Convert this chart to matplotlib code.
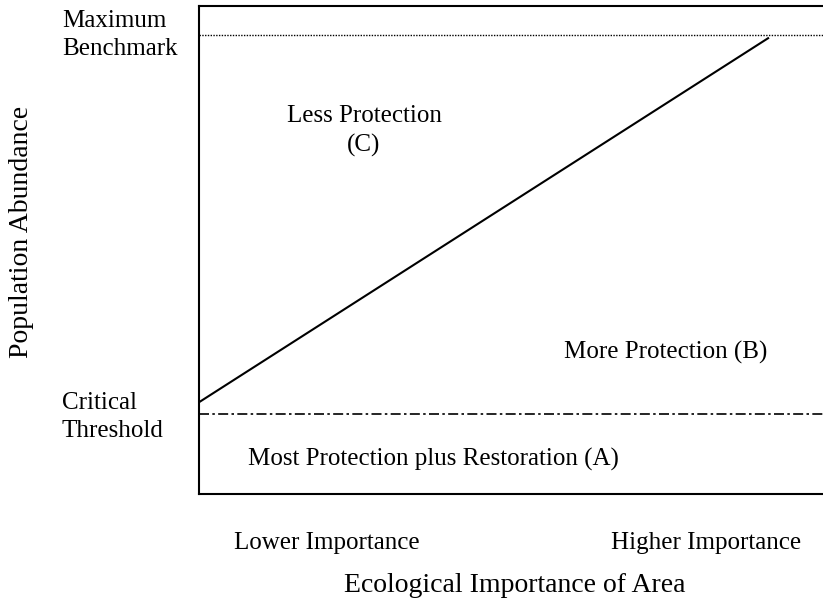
import matplotlib.pyplot as plt

# data (arbitrary units)
max_benchmark = 94.0
critical_threshold = 16.4
line_x = [0.0, 0.912]
line_y = [18.8, 93.4]

plt.rcParams['font.family'] = ['Liberation Serif', 'DejaVu Serif']

fig = plt.figure(figsize=(8.23, 6.06), dpi=100)
ax = fig.add_axes([199/823, 112/606, 1 - 199/823, 488/606])
ax.set_xlim(0, 1)
ax.set_ylim(0, 100)

ax.plot(line_x, line_y, color='black', lw=1.5)
ax.axhline(max_benchmark, color='black', lw=1.0, ls=(0, (1, 1)))
ax.axhline(critical_threshold, color='black', lw=1.2, ls=(0, (6, 2, 1.5, 2)))

for s in ['left', 'bottom', 'top']:
    ax.spines[s].set_linewidth(1.5)
ax.spines['right'].set_visible(False)
ax.set_xticks([])
ax.set_yticks([])

fs = 18
# region labels
fig.text(364/823, 1 - 131/606, 'Less Protection\n(C)', ha='center', va='center', fontsize=fs, linespacing=1.35)
fig.text(666/823, 1 - 352/606, 'More Protection (B)', ha='center', va='center', fontsize=fs)
fig.text(433/823, 1 - 459/606, 'Most Protection plus Restoration (A)', ha='center', va='center', fontsize=fs)

# y-side labels
fig.text(62/823, 1 - 35/606, 'Maximum\nBenchmark', ha='left', va='center', fontsize=fs, linespacing=1.3)
fig.text(62/823, 1 - 417/606, 'Critical\nThreshold', ha='left', va='center', fontsize=fs, linespacing=1.3)
fig.text(22/823, 1 - 232/606, 'Population Abundance', rotation=90, ha='center', va='center', fontsize=20)

# x-side labels
fig.text(327/823, 1 - 543/606, 'Lower Importance', ha='center', va='center', fontsize=fs)
fig.text(706/823, 1 - 543/606, 'Higher Importance', ha='center', va='center', fontsize=fs)
fig.text(515/823, 1 - 586/606, 'Ecological Importance of Area', ha='center', va='center', fontsize=20)

fig.savefig('out.png', dpi=100)
